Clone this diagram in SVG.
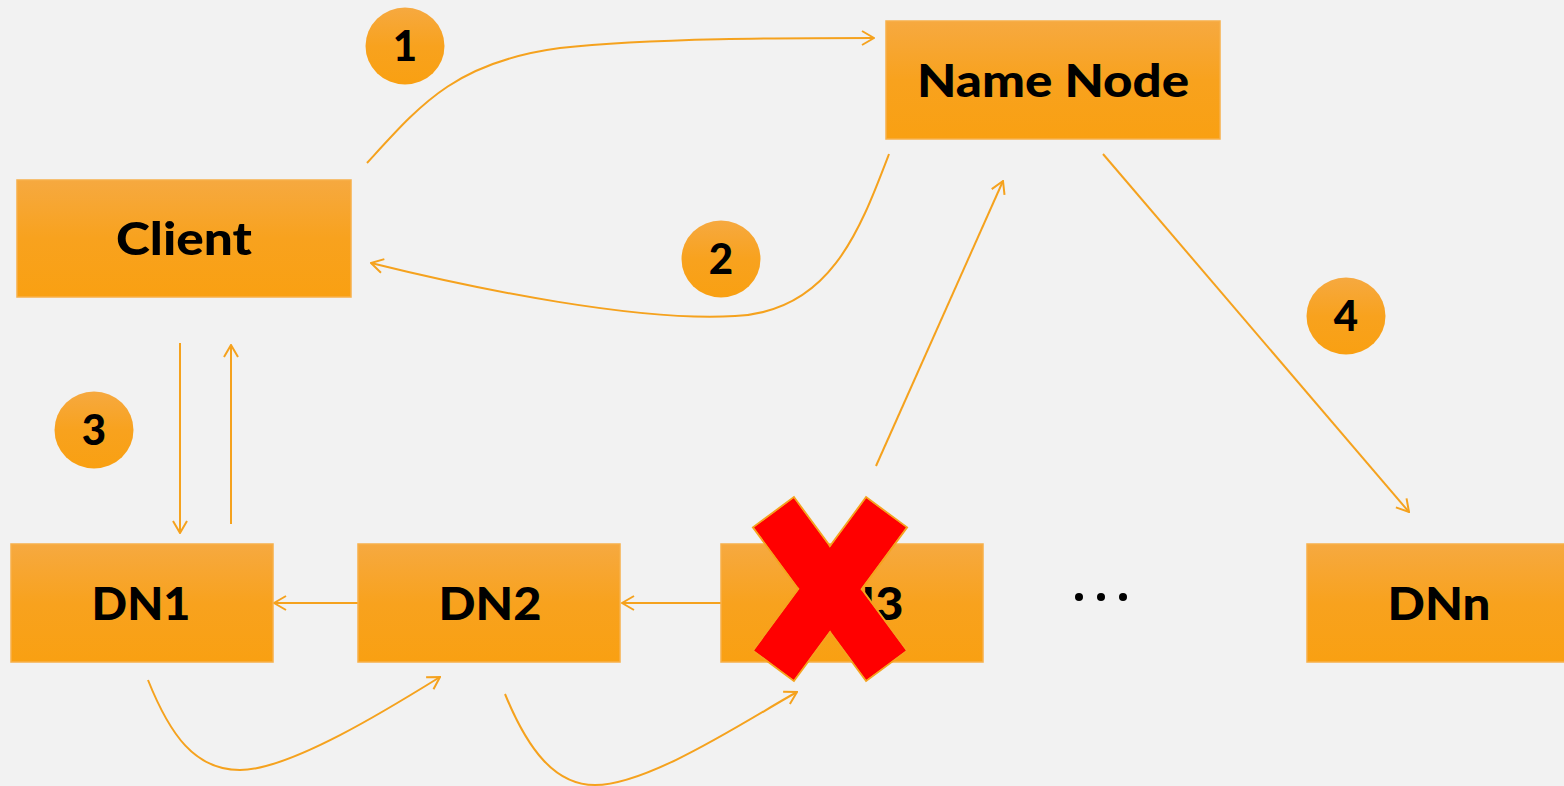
<svg xmlns="http://www.w3.org/2000/svg" width="1564" height="786" viewBox="0 0 1564 786">
  <style>
    .box { fill: url(#boxFill); stroke: #F7B04A; stroke-width: 1.5; }
    .badge { fill: url(#boxFill); }
    .label { font-family: Lato, "Open Sans", "Liberation Sans", sans-serif; font-weight: 900; font-size: 45px; fill: #000; text-anchor: middle; }
    .num { font-family: Lato, "Open Sans", "Liberation Sans", sans-serif; font-weight: 900; font-size: 42px; fill: #000; text-anchor: middle; }
    .link { fill: none; stroke: #F5A21E; stroke-width: 2; marker-end: url(#arrow); }
  </style>
  <defs>
    <linearGradient id="boxFill" x1="0" y1="0" x2="0" y2="1">
      <stop offset="0" stop-color="#F6A940"/>
      <stop offset="0.5" stop-color="#F8A21E"/>
      <stop offset="1" stop-color="#F9A012"/>
    </linearGradient>
    <marker id="arrow" markerWidth="14" markerHeight="16" refX="13" refY="8" orient="auto" markerUnits="userSpaceOnUse">
      <path d="M1,1 L13,8 L1,15" fill="none" stroke="#F5A21E" stroke-width="2"/>
    </marker>
  </defs>

  <rect width="1564" height="786" fill="#F2F2F2"/>

  <!-- connectors -->
  <g id="connectors">
    <path class="link" d="M367,163 C420,105 455,62 560,48 C650,38 790,38 874,38"/>
    <path class="link" d="M889,154 C860,230 830,312 735,316 C640,322 480,290 371,263"/>
    <path class="link" d="M180,343 L180,533"/>
    <path class="link" d="M231,524 L231,345"/>
    <path class="link" d="M358,603 L274,603"/>
    <path class="link" d="M721,603 L622,603"/>
    <path class="link" d="M148,680 C170,735 195,770 240,770 C290,770 390,708 440,677"/>
    <path class="link" d="M505,694 C528,750 555,785 595,785 C650,785 750,718 797,692"/>
    <path class="link" d="M876,466 L1003,181"/>
    <path class="link" d="M1103,154 L1409,512"/>
  </g>

  <!-- nodes -->
  <g id="namenode">
    <rect class="box" x="886" y="21" width="334" height="118"/>
    <text class="label" x="1053" y="97" textLength="272" lengthAdjust="spacingAndGlyphs">Name Node</text>
  </g>
  <g id="client">
    <rect class="box" x="17" y="180" width="334" height="117"/>
    <text class="label" x="184" y="255" textLength="136" lengthAdjust="spacingAndGlyphs">Client</text>
  </g>
  <g id="dn1">
    <rect class="box" x="11" y="544" width="262" height="118"/>
    <text class="label" x="141" y="620" textLength="99" lengthAdjust="spacingAndGlyphs">DN1</text>
  </g>
  <g id="dn2">
    <rect class="box" x="358" y="544" width="262" height="118"/>
    <text class="label" x="490" y="620" textLength="103" lengthAdjust="spacingAndGlyphs">DN2</text>
  </g>
  <g id="dn3">
    <rect class="box" x="721" y="544" width="262" height="118"/>
    <text class="label" x="852" y="620" textLength="103" lengthAdjust="spacingAndGlyphs">DN3</text>
  </g>
  <g id="dnn">
    <rect class="box" x="1307" y="544" width="262" height="118"/>
    <text class="label" x="1439" y="620" textLength="103" lengthAdjust="spacingAndGlyphs">DNn</text>
  </g>

  <!-- ellipsis between DN3 and DNn -->
  <g id="ellipsis" fill="#000">
    <circle cx="1079" cy="597" r="4"/>
    <circle cx="1101" cy="597" r="4"/>
    <circle cx="1123" cy="597" r="4"/>
  </g>

  <!-- step badges -->
  <g id="step1">
    <ellipse class="badge" cx="405" cy="46" rx="39.5" ry="38.5"/>
    <text class="num" x="405" y="61">1</text>
  </g>
  <g id="step2">
    <ellipse class="badge" cx="721" cy="259" rx="39.5" ry="38.5"/>
    <text class="num" x="721" y="274">2</text>
  </g>
  <g id="step3">
    <ellipse class="badge" cx="94" cy="430" rx="39.5" ry="38.5"/>
    <text class="num" x="94" y="445">3</text>
  </g>
  <g id="step4">
    <ellipse class="badge" cx="1346" cy="316" rx="39.5" ry="38.5"/>
    <text class="num" x="1346" y="331">4</text>
  </g>

  <!-- failure mark over DN3 -->
  <g id="failure">
    <g fill="#FF0000" stroke="#F5A21E" stroke-width="2">
      <rect x="-95.3" y="-25.4" width="190.6" height="50.8" transform="translate(830,589) rotate(53.6)"/>
      <rect x="-95.3" y="-25.4" width="190.6" height="50.8" transform="translate(830,589) rotate(-53.6)"/>
    </g>
    <g fill="#FF0000">
      <rect x="-94.3" y="-24.4" width="188.6" height="48.8" transform="translate(830,589) rotate(53.6)"/>
      <rect x="-94.3" y="-24.4" width="188.6" height="48.8" transform="translate(830,589) rotate(-53.6)"/>
    </g>
  </g>
</svg>
